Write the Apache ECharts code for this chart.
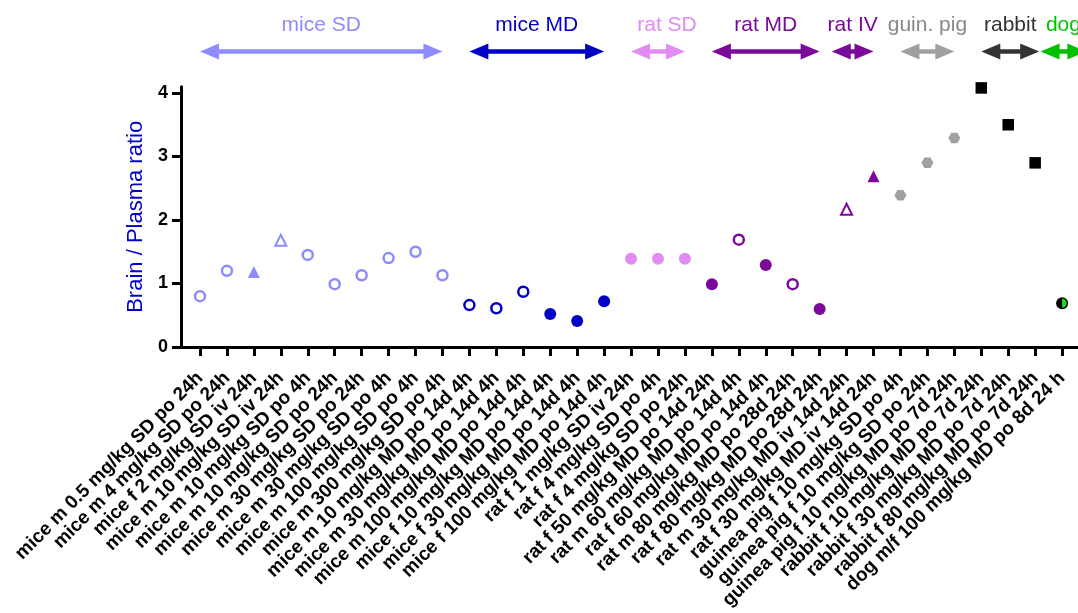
<!DOCTYPE html>
<html>
<head>
<meta charset="utf-8">
<script src="https://cdn.jsdelivr.net/npm/echarts@6/dist/echarts.min.js"></script>
<style>
html,body{margin:0;padding:0;background:#fff;}
#chart{width:1078px;height:613px;}
</style>
</head>
<body>
<div id="chart"></div>
<script>
// ---------------- DATA ----------------
const categories = [
  'mice m 0.5 mg/kg SD po 24h',
  'mice m 4 mg/kg SD po 24h',
  'mice f 2 mg/kg SD iv 24h',
  'mice m 10 mg/kg SD iv 24h',
  'mice m 10 mg/kg SD po 4h',
  'mice m 10 mg/kg SD po 24h',
  'mice m 30 mg/kg SD po 24h',
  'mice m 30 mg/kg SD po 4h',
  'mice m 100 mg/kg SD po 4h',
  'mice m 300 mg/kg SD po 4h',
  'mice m 10 mg/kg MD po 14d 4h',
  'mice m 30 mg/kg MD po 14d 4h',
  'mice m 100 mg/kg MD po 14d 4h',
  'mice f 10 mg/kg MD po 14d 4h',
  'mice f 30 mg/kg MD po 14d 4h',
  'mice f 100 mg/kg MD po 14d 4h',
  'rat f 1 mg/kg SD iv 24h',
  'rat f 4 mg/kg SD po 4h',
  'rat f 4 mg/kg SD po 24h',
  'rat f 50 mg/kg MD po 14d 24h',
  'rat m 60 mg/kg MD po 14d 4h',
  'rat f 60 mg/kg MD po 14d 4h',
  'rat m 80 mg/kg MD po 28d 24h',
  'rat f 80 mg/kg MD po 28d 24h',
  'rat m 30 mg/kg MD iv 14d 24h',
  'rat f 30 mg/kg MD iv 14d 24h',
  'guinea pig f 10 mg/kg SD po 4h',
  'guinea pig f 10 mg/kg SD po 24h',
  'guinea pig f 10 mg/kg MD po 7d 24h',
  'rabbit f 10 mg/kg MD po 7d 24h',
  'rabbit f 30 mg/kg MD po 7d 24h',
  'rabbit f 80 mg/kg MD po 7d 24h',
  'dog m/f 100 mg/kg MD po 8d 24 h'
];
const values = [
  0.80, 1.20, 1.18, 1.68, 1.45, 0.99, 1.13, 1.40, 1.50, 1.13,
  0.66, 0.61, 0.87, 0.52, 0.41, 0.72,
  1.39, 1.39, 1.39,
  0.99, 1.69, 1.29, 0.99, 0.60,
  2.17, 2.69,
  2.39, 2.90, 3.29,
  4.08, 3.50, 2.90,
  0.69
];
const pointGroup = [
  0,0,0,0,0,0,0,0,0,0,
  1,1,1,1,1,1,
  2,2,2,
  3,3,3,3,3,
  4,4,
  5,5,5,
  6,6,6,
  7
];
const groupNames = ['mice SD','mice MD','rat SD','rat MD','rat IV','guin. pig','rabbit','dog'];
const groupStart = [0, 10, 16, 19, 23.45, 26, 29, 31.2];
const groupEnd   = [9, 15, 18, 23, 25, 28, 31.15, 32.9];
const yTicks = [0, 1, 2, 3, 4];

// ---------------- STYLE ----------------
// o = open circle, c = filled circle, t = filled triangle, v = open triangle,
// h = hexagon, s = square, d = half black / half green circle
const markerKind = [
  'o','o','t','v','o','o','o','o','o','o',
  'o','o','o','c','c','c',
  'c','c','c',
  'c','o','c','o','c',
  'v','t',
  'h','h','h',
  's','s','s',
  'd'
];
const groupColor = ['#8c8cff','#0000c8','#e08cf2','#7a0a9a','#7a0a9a','#a0a0a0','#333333','#00c000'];
const groupTextColor = ['#8c8cff','#0000c8','#e08cf2','#7a0a9a','#7a0a9a','#888888','#333333','#00c000'];
const groupTextDx = [0,0,9,0,0,0,0,0];
const FONT = "'Liberation Sans', Arial, sans-serif";
const ARROW_Y = 51.5, TEXT_Y = 25, HEAD_L = 19, HEAD_H = 8;
const HEX = 'path://M0,5 L3,0 L9,0 L12,5 L9,10 L3,10 Z';

const pts = values.map((v, i) => {
  const col = groupColor[pointGroup[i]];
  const k = markerKind[i];
  const item = { value: [i, v] };
  if (k === 'o') { item.symbol = 'circle'; item.symbolSize = 10; item.itemStyle = { color: '#fff', borderColor: col, borderWidth: 2.5 }; }
  else if (k === 'c') { item.symbol = 'circle'; item.symbolSize = 12; item.itemStyle = { color: col }; }
  else if (k === 't') { item.symbol = 'triangle'; item.symbolSize = 12; item.itemStyle = { color: col }; }
  else if (k === 'v') { item.symbol = 'triangle'; item.symbolSize = 11; item.itemStyle = { color: '#fff', borderColor: col, borderWidth: 2 }; }
  else if (k === 'h') { item.symbol = HEX; item.symbolSize = [12, 10.5]; item.itemStyle = { color: col }; }
  else if (k === 's') { item.symbol = 'rect'; item.symbolSize = 11.5; item.itemStyle = { color: '#000' }; }
  else if (k === 'd') { item.symbol = 'circle'; item.symbolSize = 12; item.itemStyle = { color: '#000' }; }
  item.itemStyle.opacity = 1;
  return item;
});
const halfGreen = values.map((v, i) => markerKind[i] === 'd' ? [i, v] : null).filter(Boolean);
const arrowData = groupNames.map((n, g) => [groupStart[g], groupEnd[g], g]);

const chart = echarts.init(document.getElementById('chart'), null, { renderer: 'canvas' });
chart.setOption({
  animation: false,
  backgroundColor: '#fff',
  grid: { left: 181, right: 0, top: 86.65, bottom: 266, containLabel: false, outerBoundsMode: 'none' },
  xAxis: {
    type: 'value',
    min: -0.705, max: 32.59,
    splitLine: { show: false },
    axisLine: { show: true, onZero: false, lineStyle: { color: '#000', width: 3 } },
    axisTick: { show: true, length: 9, lineStyle: { color: '#000', width: 3 }, customValues: categories.map((c, i) => i) },
    axisLabel: {
      show: true, rotate: 45, margin: 28,
      customValues: categories.map((c, i) => i),
      formatter: v => categories[Math.round(v)] || '',
      fontFamily: FONT, fontSize: 19, fontWeight: 'bold', color: '#000'
    }
  },
  yAxis: {
    type: 'value', min: 0, max: 4.1,
    name: 'Brain / Plasma ratio', nameLocation: 'middle', nameGap: 34,
    nameTextStyle: { fontFamily: FONT, fontSize: 22, color: '#0000c8' },
    splitLine: { show: false },
    axisLine: { show: true, onZero: false, lineStyle: { color: '#000', width: 3 } },
    axisTick: { show: true, length: 9, lineStyle: { color: '#000', width: 3 }, customValues: yTicks },
    axisLabel: { customValues: yTicks, margin: 13, fontFamily: FONT, fontSize: 18, fontWeight: 'bold', color: '#000' }
  },
  series: [
    { type: 'scatter', data: pts, z: 3 },
    {
      type: 'scatter', data: halfGreen, z: 4,
      symbol: 'path://M0,0 A5,5 0 0 1 0,10 Z', symbolSize: [4.6, 9], symbolOffset: [2.3, 0],
      itemStyle: { color: '#22dd22', opacity: 1 }
    },
    {
      type: 'custom', coordinateSystem: 'cartesian2d', clip: false, silent: true, z: 5,
      data: arrowData,
      encode: { x: [0, 1] },
      renderItem: function (params, api) {
        const g = api.value(2);
        const x1 = api.coord([api.value(0), 0])[0];
        const x2 = api.coord([api.value(1), 0])[0];
        const col = groupColor[g];
        const y = ARROW_Y;
        return {
          type: 'group',
          children: [
            { type: 'line', shape: { x1: x1 + HEAD_L - 2, y1: y, x2: x2 - HEAD_L + 2, y2: y }, style: { stroke: col, lineWidth: 4.5 } },
            { type: 'polygon', shape: { points: [[x1, y], [x1 + HEAD_L, y - HEAD_H], [x1 + HEAD_L, y + HEAD_H]] }, style: { fill: col } },
            { type: 'polygon', shape: { points: [[x2, y], [x2 - HEAD_L, y - HEAD_H], [x2 - HEAD_L, y + HEAD_H]] }, style: { fill: col } },
            { type: 'text', style: { text: groupNames[g], x: (x1 + x2) / 2 + groupTextDx[g], y: TEXT_Y, align: 'center', verticalAlign: 'middle', fill: groupTextColor[g], font: '21px ' + FONT } }
          ]
        };
      }
    }
  ]
});
</script>
</body>
</html>
